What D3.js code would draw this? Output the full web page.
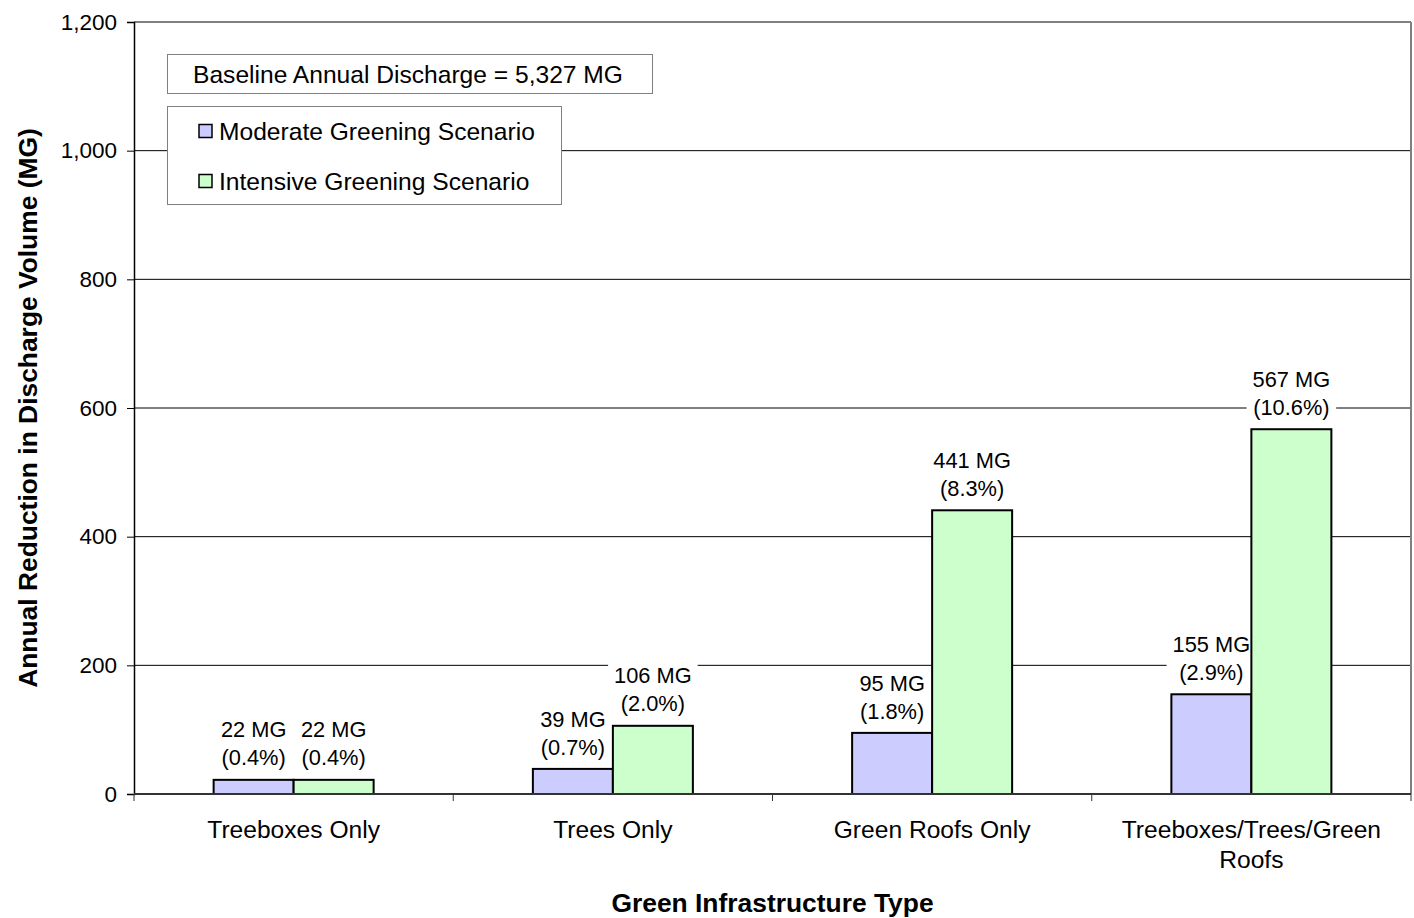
<!DOCTYPE html>
<html>
<head>
<meta charset="utf-8">
<script src="https://cdn.jsdelivr.net/npm/d3@7"></script>
<style>
  html, body { margin: 0; padding: 0; background: #fff; }
  text { font-family: "Liberation Sans", Arial, sans-serif; fill: #000; }
</style>
</head>
<body>
<svg id="chart" width="1414" height="918"></svg>
<script>
const categories = ["Treeboxes Only", "Trees Only", "Green Roofs Only", "Treeboxes/Trees/Green Roofs"];
const categoryLines = [["Treeboxes Only"], ["Trees Only"], ["Green Roofs Only"], ["Treeboxes/Trees/Green", "Roofs"]];
const seriesNames = ["Moderate Greening Scenario", "Intensive Greening Scenario"];
const moderate = [22, 39, 95, 155];
const intensive = [22, 106, 441, 567];
const moderatePct = ["(0.4%)", "(0.7%)", "(1.8%)", "(2.9%)"];
const intensivePct = ["(0.4%)", "(2.0%)", "(8.3%)", "(10.6%)"];
const yTicks = [0, 200, 400, 600, 800, 1000, 1200];
const baselineNote = "Baseline Annual Discharge = 5,327 MG";
const colors = ["#CCCCFF", "#CCFFCC"];

(function () {
const svg = d3.select("#chart");
const pL = 134, pR = 1411, pT = 22, pB = 794;
const fsMain = "24.6px", fsTick = "22.5px", fsVal = "21.8px", fsTitle = "26.4px";

const x = d3.scaleBand().domain(categories).range([pL, pR]).padding(0);
const y = d3.scaleLinear().domain([0, 1200]).range([pB, pT]);
const barW = 80;
const sub = d3.scaleBand().domain([0, 1]).range([-barW, barW]).padding(0);

// gridlines
svg.append("g").selectAll("line").data(yTicks.filter(d => d > 0 && d < 1200)).join("line")
  .attr("x1", pL).attr("x2", pR)
  .attr("y1", d => y(d)).attr("y2", d => y(d))
  .attr("stroke", "#000").attr("stroke-width", 1);

// plot border top & right (gray)
svg.append("line").attr("x1", pL).attr("x2", pR).attr("y1", y(1200)).attr("y2", y(1200))
  .attr("stroke", "#808080").attr("stroke-width", 2);
svg.append("line").attr("x1", pR).attr("x2", pR).attr("y1", pT).attr("y2", pB)
  .attr("stroke", "#808080").attr("stroke-width", 2);

// y axis
const yAxis = d3.axisLeft(y).tickValues(yTicks).tickSize(7).tickPadding(10)
  .tickFormat(d3.format(","));
const gy = svg.append("g").attr("transform", `translate(${pL},0)`).call(yAxis);
gy.select(".domain").attr("stroke", "#000").attr("stroke-width", 1.5);
gy.selectAll(".tick line").attr("stroke", "#000");
gy.selectAll("text").style("font-size", fsTick).style("font-family", "Liberation Sans, Arial, sans-serif");

// x axis ticks at band boundaries
const boundaries = categories.map(c => x(c)).concat([pR]);
svg.append("g").selectAll("line").data(boundaries).join("line")
  .attr("x1", d => d).attr("x2", d => d).attr("y1", pB).attr("y2", pB + 7)
  .attr("stroke", "#333").attr("stroke-width", 1);

const data = categories.map((c, i) => ({c, vals: [moderate[i], intensive[i]], pct: [moderatePct[i], intensivePct[i]]}));
const groups = svg.append("g").selectAll("g").data(data).join("g")
  .attr("transform", d => `translate(${x(d.c) + x.bandwidth() / 2},0)`);

// value label layers: backgrounds first, then bars, then texts
const bgLayer = groups.append("g");
const barLayer = groups.append("g");
const txtLayer = groups.append("g");

barLayer.selectAll("rect").data(d => d.vals.map((v, k) => ({v, k}))).join("rect")
  .attr("x", d => sub(d.k)).attr("width", sub.bandwidth())
  .attr("y", d => y(d.v)).attr("height", d => y(0) - y(d.v))
  .attr("fill", d => colors[d.k]).attr("stroke", "#000").attr("stroke-width", 2);

const labels = txtLayer.selectAll("g").data(d => d.vals.map((v, k) => ({v, k, p: d.pct[k]}))).join("g")
  .attr("transform", d => `translate(${sub(d.k) + sub.bandwidth() / 2},${y(d.v)})`);
labels.append("text").attr("text-anchor", "middle").attr("y", -50).attr("dy", "0.35em")
  .style("font-size", fsVal).text(d => d.v + " MG");
labels.append("text").attr("text-anchor", "middle").attr("y", -22).attr("dy", "0.35em")
  .style("font-size", fsVal).text(d => d.p);
labels.each(function(d, i) {
  const texts = d3.select(this).selectAll("text").nodes();
  const w = Math.max(texts[0].getComputedTextLength(), texts[1].getComputedTextLength()) + 12;
  d3.select(this.parentNode.parentNode).select("g").append("rect")
    .attr("x", sub(d.k) + sub.bandwidth() / 2 - w / 2).attr("width", w)
    .attr("y", y(d.v) - 64).attr("height", 56).attr("fill", "#fff");
});

// x axis line
svg.append("line").attr("x1", pL).attr("x2", pR).attr("y1", pB).attr("y2", pB)
  .attr("stroke", "#333").attr("stroke-width", 2);

// category labels
svg.append("g").selectAll("text").data(categories).join("text")
  .attr("x", d => x(d) + x.bandwidth() / 2).attr("y", 829).attr("text-anchor", "middle")
  .style("font-size", fsMain)
  .each(function(d, i) {
    d3.select(this).selectAll("tspan").data(categoryLines[i]).join("tspan")
      .attr("x", x(d) + x.bandwidth() / 2).attr("dy", (l, j) => j === 0 ? "0.35em" : "30px").text(l => l);
  });

// axis titles
svg.append("text").attr("x", (pL + pR) / 2).attr("y", 903).attr("dy", "0.35em")
  .attr("text-anchor", "middle").style("font-size", fsTitle).style("font-weight", "bold")
  .text("Green Infrastructure Type");
svg.append("text").attr("transform", `translate(28,408) rotate(-90)`).attr("dy", "0.35em")
  .attr("text-anchor", "middle").style("font-size", fsTitle).style("font-weight", "bold")
  .text("Annual Reduction in Discharge Volume (MG)");

// baseline note box
svg.append("rect").attr("x", 167.5).attr("y", 54.5).attr("width", 485).attr("height", 39)
  .attr("fill", "#fff").attr("stroke", "#808080").attr("stroke-width", 1);
svg.append("text").attr("x", 193).attr("y", 74).attr("dy", "0.35em")
  .style("font-size", fsMain).text(baselineNote);

// legend
svg.append("rect").attr("x", 167.5).attr("y", 106.5).attr("width", 394).attr("height", 98)
  .attr("fill", "#fff").attr("stroke", "#808080").attr("stroke-width", 1);
const leg = svg.append("g").selectAll("g").data(seriesNames).join("g")
  .attr("transform", (d, i) => `translate(199,${131 + i * 50})`);
leg.append("rect").attr("x", 0).attr("y", -6.5).attr("width", 13).attr("height", 13)
  .attr("fill", (d, i) => colors[i]).attr("stroke", "#000").attr("stroke-width", 1.5);
leg.append("text").attr("x", 20).attr("dy", "0.35em").style("font-size", fsMain).text(d => d);
})();
</script>
</body>
</html>
